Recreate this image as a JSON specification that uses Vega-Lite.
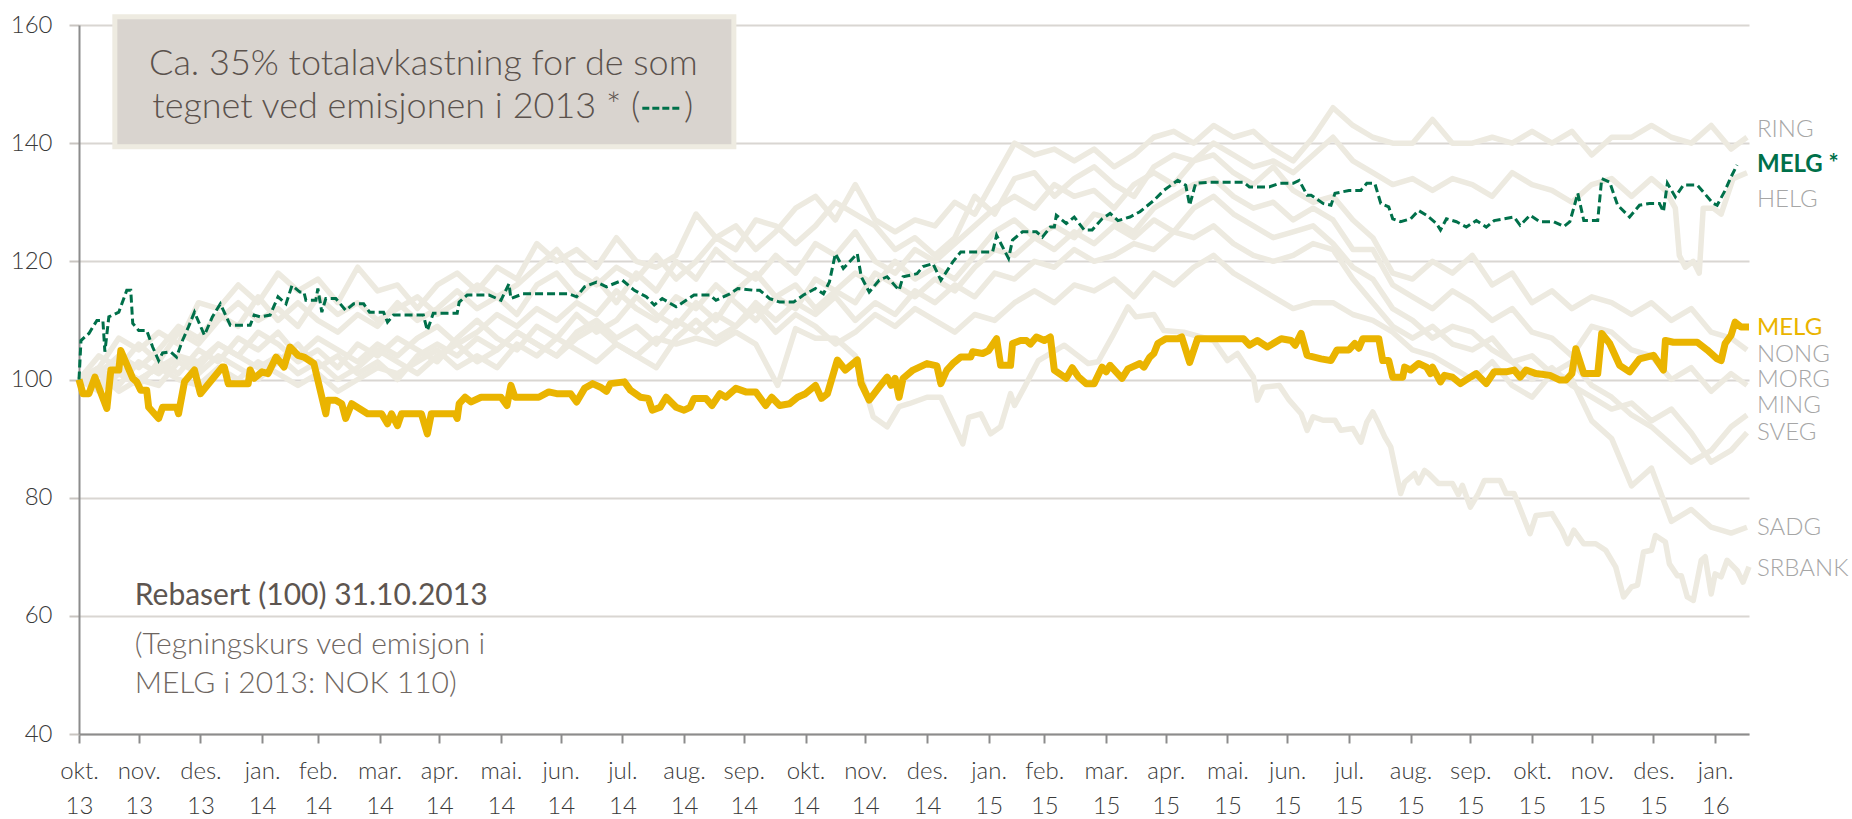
{
"$schema":"https://vega.github.io/schema/vega-lite/v6.json",
"width":1670,"height":709,
"autosize":{"type":"none"},
"padding":{"left":79,"top":25,"right":103,"bottom":85},
"config":{"view":{"stroke":null},"font":"Lato"},
"datasets":{
"series":[
{"s":"RING","d":"2013-10-31","v":100},{"s":"RING","d":"2013-11-10","v":102},{"s":"RING","d":"2013-11-20","v":107},{"s":"RING","d":"2013-11-30","v":105},{"s":"RING","d":"2013-12-10","v":108},{"s":"RING","d":"2013-12-20","v":106},{"s":"RING","d":"2013-12-30","v":113},{"s":"RING","d":"2014-01-09","v":112},{"s":"RING","d":"2014-01-19","v":116},{"s":"RING","d":"2014-01-29","v":113},
{"s":"RING","d":"2014-02-08","v":118},{"s":"RING","d":"2014-02-18","v":115},{"s":"RING","d":"2014-02-28","v":117},{"s":"RING","d":"2014-03-10","v":113},{"s":"RING","d":"2014-03-20","v":119},{"s":"RING","d":"2014-03-30","v":115},{"s":"RING","d":"2014-04-09","v":116},{"s":"RING","d":"2014-04-19","v":112},{"s":"RING","d":"2014-04-29","v":116},{"s":"RING","d":"2014-05-09","v":118},
{"s":"RING","d":"2014-05-19","v":115},{"s":"RING","d":"2014-05-29","v":119},{"s":"RING","d":"2014-06-08","v":117},{"s":"RING","d":"2014-06-18","v":123},{"s":"RING","d":"2014-06-28","v":120},{"s":"RING","d":"2014-07-08","v":122},{"s":"RING","d":"2014-07-18","v":119},{"s":"RING","d":"2014-07-28","v":124},{"s":"RING","d":"2014-08-07","v":120},{"s":"RING","d":"2014-08-17","v":119},
{"s":"RING","d":"2014-08-27","v":121},{"s":"RING","d":"2014-09-06","v":128},{"s":"RING","d":"2014-09-16","v":124},{"s":"RING","d":"2014-09-26","v":126},{"s":"RING","d":"2014-10-06","v":122},{"s":"RING","d":"2014-10-16","v":125},{"s":"RING","d":"2014-10-26","v":129},{"s":"RING","d":"2014-11-05","v":131},{"s":"RING","d":"2014-11-15","v":127},{"s":"RING","d":"2014-11-25","v":133},
{"s":"RING","d":"2014-12-05","v":127},{"s":"RING","d":"2014-12-15","v":125},{"s":"RING","d":"2014-12-25","v":127},{"s":"RING","d":"2015-01-04","v":126},{"s":"RING","d":"2015-01-14","v":130},{"s":"RING","d":"2015-01-24","v":128},{"s":"RING","d":"2015-02-03","v":134},{"s":"RING","d":"2015-02-13","v":140},{"s":"RING","d":"2015-02-23","v":138},{"s":"RING","d":"2015-03-05","v":139},
{"s":"RING","d":"2015-03-15","v":137},{"s":"RING","d":"2015-03-25","v":139},{"s":"RING","d":"2015-04-04","v":136},{"s":"RING","d":"2015-04-14","v":138},{"s":"RING","d":"2015-04-24","v":141},{"s":"RING","d":"2015-05-04","v":142},{"s":"RING","d":"2015-05-14","v":140},{"s":"RING","d":"2015-05-24","v":143},{"s":"RING","d":"2015-06-03","v":141},{"s":"RING","d":"2015-06-13","v":142},
{"s":"RING","d":"2015-06-23","v":139},{"s":"RING","d":"2015-07-03","v":137},{"s":"RING","d":"2015-07-13","v":141},{"s":"RING","d":"2015-07-23","v":146},{"s":"RING","d":"2015-08-02","v":143},{"s":"RING","d":"2015-08-12","v":141},{"s":"RING","d":"2015-08-22","v":140},{"s":"RING","d":"2015-09-01","v":140},{"s":"RING","d":"2015-09-11","v":144},{"s":"RING","d":"2015-09-21","v":140},
{"s":"RING","d":"2015-10-01","v":140},{"s":"RING","d":"2015-10-11","v":141},{"s":"RING","d":"2015-10-21","v":140},{"s":"RING","d":"2015-10-31","v":142},{"s":"RING","d":"2015-11-10","v":140},{"s":"RING","d":"2015-11-20","v":142},{"s":"RING","d":"2015-11-30","v":138},{"s":"RING","d":"2015-12-10","v":141},{"s":"RING","d":"2015-12-20","v":141},{"s":"RING","d":"2015-12-30","v":143},
{"s":"RING","d":"2016-01-09","v":141},{"s":"RING","d":"2016-01-19","v":140},{"s":"RING","d":"2016-01-29","v":143},{"s":"RING","d":"2016-02-08","v":139},{"s":"RING","d":"2016-02-16","v":141},

{"s":"HELG","d":"2013-10-31","v":100},{"s":"HELG","d":"2013-11-10","v":104},{"s":"HELG","d":"2013-11-20","v":102},{"s":"HELG","d":"2013-11-30","v":106},{"s":"HELG","d":"2013-12-10","v":103},{"s":"HELG","d":"2013-12-20","v":108},{"s":"HELG","d":"2013-12-30","v":106},{"s":"HELG","d":"2014-01-09","v":110},{"s":"HELG","d":"2014-01-19","v":113},{"s":"HELG","d":"2014-01-29","v":110},
{"s":"HELG","d":"2014-02-08","v":112},{"s":"HELG","d":"2014-02-18","v":109},{"s":"HELG","d":"2014-02-28","v":114},{"s":"HELG","d":"2014-03-10","v":111},{"s":"HELG","d":"2014-03-20","v":113},{"s":"HELG","d":"2014-03-30","v":110},{"s":"HELG","d":"2014-04-09","v":112},{"s":"HELG","d":"2014-04-19","v":114},{"s":"HELG","d":"2014-04-29","v":111},{"s":"HELG","d":"2014-05-09","v":113},
{"s":"HELG","d":"2014-05-19","v":116},{"s":"HELG","d":"2014-05-29","v":114},{"s":"HELG","d":"2014-06-08","v":116},{"s":"HELG","d":"2014-06-18","v":119},{"s":"HELG","d":"2014-06-28","v":122},{"s":"HELG","d":"2014-07-08","v":118},{"s":"HELG","d":"2014-07-18","v":116},{"s":"HELG","d":"2014-07-28","v":119},{"s":"HELG","d":"2014-08-07","v":117},{"s":"HELG","d":"2014-08-17","v":121},
{"s":"HELG","d":"2014-08-27","v":117},{"s":"HELG","d":"2014-09-06","v":120},{"s":"HELG","d":"2014-09-16","v":124},{"s":"HELG","d":"2014-09-26","v":122},{"s":"HELG","d":"2014-10-06","v":127},{"s":"HELG","d":"2014-10-16","v":126},{"s":"HELG","d":"2014-10-26","v":123},{"s":"HELG","d":"2014-11-05","v":126},{"s":"HELG","d":"2014-11-15","v":130},{"s":"HELG","d":"2014-11-25","v":128},
{"s":"HELG","d":"2014-12-05","v":126},{"s":"HELG","d":"2014-12-15","v":122},{"s":"HELG","d":"2014-12-25","v":124},{"s":"HELG","d":"2015-01-04","v":121},{"s":"HELG","d":"2015-01-14","v":124},{"s":"HELG","d":"2015-01-24","v":131},{"s":"HELG","d":"2015-02-03","v":128},{"s":"HELG","d":"2015-02-13","v":134},{"s":"HELG","d":"2015-02-23","v":135},{"s":"HELG","d":"2015-03-05","v":131},
{"s":"HELG","d":"2015-03-15","v":134},{"s":"HELG","d":"2015-03-25","v":136},{"s":"HELG","d":"2015-04-04","v":133},{"s":"HELG","d":"2015-04-14","v":131},{"s":"HELG","d":"2015-04-24","v":136},{"s":"HELG","d":"2015-05-04","v":138},{"s":"HELG","d":"2015-05-14","v":137},{"s":"HELG","d":"2015-05-24","v":140},{"s":"HELG","d":"2015-06-03","v":138},{"s":"HELG","d":"2015-06-13","v":136},
{"s":"HELG","d":"2015-06-23","v":137},{"s":"HELG","d":"2015-07-03","v":135},{"s":"HELG","d":"2015-07-13","v":138},{"s":"HELG","d":"2015-07-23","v":141},{"s":"HELG","d":"2015-08-02","v":137},{"s":"HELG","d":"2015-08-12","v":135},{"s":"HELG","d":"2015-08-22","v":133},{"s":"HELG","d":"2015-09-01","v":134},{"s":"HELG","d":"2015-09-11","v":132},{"s":"HELG","d":"2015-09-21","v":134},
{"s":"HELG","d":"2015-10-01","v":133},{"s":"HELG","d":"2015-10-11","v":131},{"s":"HELG","d":"2015-10-21","v":135},{"s":"HELG","d":"2015-10-31","v":133},{"s":"HELG","d":"2015-11-10","v":132},{"s":"HELG","d":"2015-11-20","v":130},{"s":"HELG","d":"2015-11-30","v":133},{"s":"HELG","d":"2015-12-10","v":134},{"s":"HELG","d":"2015-12-20","v":131},{"s":"HELG","d":"2015-12-30","v":134},
{"s":"HELG","d":"2016-01-06","v":132},{"s":"HELG","d":"2016-01-11","v":129},{"s":"HELG","d":"2016-01-13","v":121},{"s":"HELG","d":"2016-01-16","v":119},{"s":"HELG","d":"2016-01-20","v":120},{"s":"HELG","d":"2016-01-23","v":118},{"s":"HELG","d":"2016-01-25","v":129},{"s":"HELG","d":"2016-01-30","v":129},{"s":"HELG","d":"2016-02-03","v":128},{"s":"HELG","d":"2016-02-09","v":134},{"s":"HELG","d":"2016-02-16","v":135},

{"s":"NONG","d":"2013-10-31","v":100},{"s":"NONG","d":"2013-11-10","v":101},{"s":"NONG","d":"2013-11-20","v":104},{"s":"NONG","d":"2013-11-30","v":102},{"s":"NONG","d":"2013-12-10","v":105},{"s":"NONG","d":"2013-12-20","v":109},{"s":"NONG","d":"2013-12-30","v":107},{"s":"NONG","d":"2014-01-09","v":111},{"s":"NONG","d":"2014-01-19","v":109},{"s":"NONG","d":"2014-01-29","v":114},
{"s":"NONG","d":"2014-02-08","v":110},{"s":"NONG","d":"2014-02-18","v":113},{"s":"NONG","d":"2014-02-28","v":110},{"s":"NONG","d":"2014-03-10","v":108},{"s":"NONG","d":"2014-03-20","v":111},{"s":"NONG","d":"2014-03-30","v":109},{"s":"NONG","d":"2014-04-09","v":113},{"s":"NONG","d":"2014-04-19","v":110},{"s":"NONG","d":"2014-04-29","v":112},{"s":"NONG","d":"2014-05-09","v":115},
{"s":"NONG","d":"2014-05-19","v":112},{"s":"NONG","d":"2014-05-29","v":114},{"s":"NONG","d":"2014-06-08","v":111},{"s":"NONG","d":"2014-06-18","v":116},{"s":"NONG","d":"2014-06-28","v":118},{"s":"NONG","d":"2014-07-08","v":114},{"s":"NONG","d":"2014-07-18","v":117},{"s":"NONG","d":"2014-07-28","v":113},{"s":"NONG","d":"2014-08-07","v":118},{"s":"NONG","d":"2014-08-17","v":115},
{"s":"NONG","d":"2014-08-27","v":120},{"s":"NONG","d":"2014-09-06","v":117},{"s":"NONG","d":"2014-09-16","v":122},{"s":"NONG","d":"2014-09-26","v":119},{"s":"NONG","d":"2014-10-06","v":117},{"s":"NONG","d":"2014-10-16","v":121},{"s":"NONG","d":"2014-10-26","v":118},{"s":"NONG","d":"2014-11-05","v":123},{"s":"NONG","d":"2014-11-15","v":121},{"s":"NONG","d":"2014-11-25","v":125},
{"s":"NONG","d":"2014-12-05","v":120},{"s":"NONG","d":"2014-12-15","v":118},{"s":"NONG","d":"2014-12-25","v":122},{"s":"NONG","d":"2015-01-04","v":120},{"s":"NONG","d":"2015-01-14","v":123},{"s":"NONG","d":"2015-01-24","v":126},{"s":"NONG","d":"2015-02-03","v":129},{"s":"NONG","d":"2015-02-13","v":131},{"s":"NONG","d":"2015-02-23","v":129},{"s":"NONG","d":"2015-03-05","v":133},
{"s":"NONG","d":"2015-03-15","v":131},{"s":"NONG","d":"2015-03-25","v":132},{"s":"NONG","d":"2015-04-04","v":129},{"s":"NONG","d":"2015-04-14","v":133},{"s":"NONG","d":"2015-04-24","v":135},{"s":"NONG","d":"2015-05-04","v":133},{"s":"NONG","d":"2015-05-14","v":137},{"s":"NONG","d":"2015-05-24","v":138},{"s":"NONG","d":"2015-06-03","v":135},{"s":"NONG","d":"2015-06-13","v":133},
{"s":"NONG","d":"2015-06-23","v":136},{"s":"NONG","d":"2015-07-03","v":132},{"s":"NONG","d":"2015-07-13","v":130},{"s":"NONG","d":"2015-07-23","v":131},{"s":"NONG","d":"2015-08-02","v":127},{"s":"NONG","d":"2015-08-12","v":124},{"s":"NONG","d":"2015-08-22","v":118},{"s":"NONG","d":"2015-09-01","v":117},{"s":"NONG","d":"2015-09-11","v":120},{"s":"NONG","d":"2015-09-21","v":118},
{"s":"NONG","d":"2015-10-01","v":121},{"s":"NONG","d":"2015-10-11","v":116},{"s":"NONG","d":"2015-10-21","v":118},{"s":"NONG","d":"2015-10-31","v":113},{"s":"NONG","d":"2015-11-10","v":115},{"s":"NONG","d":"2015-11-20","v":112},{"s":"NONG","d":"2015-11-30","v":114},{"s":"NONG","d":"2015-12-10","v":113},{"s":"NONG","d":"2015-12-20","v":111},{"s":"NONG","d":"2015-12-30","v":113},
{"s":"NONG","d":"2016-01-09","v":110},{"s":"NONG","d":"2016-01-19","v":112},{"s":"NONG","d":"2016-01-29","v":108},{"s":"NONG","d":"2016-02-08","v":107},{"s":"NONG","d":"2016-02-16","v":105},

{"s":"MORG","d":"2013-10-31","v":100},{"s":"MORG","d":"2013-11-10","v":98},{"s":"MORG","d":"2013-11-20","v":101},{"s":"MORG","d":"2013-11-30","v":99},{"s":"MORG","d":"2013-12-10","v":103},{"s":"MORG","d":"2013-12-20","v":101},{"s":"MORG","d":"2013-12-30","v":105},{"s":"MORG","d":"2014-01-09","v":103},{"s":"MORG","d":"2014-01-19","v":107},{"s":"MORG","d":"2014-01-29","v":105},
{"s":"MORG","d":"2014-02-08","v":108},{"s":"MORG","d":"2014-02-18","v":104},{"s":"MORG","d":"2014-02-28","v":107},{"s":"MORG","d":"2014-03-10","v":105},{"s":"MORG","d":"2014-03-20","v":103},{"s":"MORG","d":"2014-03-30","v":106},{"s":"MORG","d":"2014-04-09","v":104},{"s":"MORG","d":"2014-04-19","v":107},{"s":"MORG","d":"2014-04-29","v":109},{"s":"MORG","d":"2014-05-09","v":106},
{"s":"MORG","d":"2014-05-19","v":108},{"s":"MORG","d":"2014-05-29","v":111},{"s":"MORG","d":"2014-06-08","v":109},{"s":"MORG","d":"2014-06-18","v":112},{"s":"MORG","d":"2014-06-28","v":110},{"s":"MORG","d":"2014-07-08","v":113},{"s":"MORG","d":"2014-07-18","v":111},{"s":"MORG","d":"2014-07-28","v":115},{"s":"MORG","d":"2014-08-07","v":112},{"s":"MORG","d":"2014-08-17","v":110},
{"s":"MORG","d":"2014-08-27","v":114},{"s":"MORG","d":"2014-09-06","v":112},{"s":"MORG","d":"2014-09-16","v":116},{"s":"MORG","d":"2014-09-26","v":113},{"s":"MORG","d":"2014-10-06","v":110},{"s":"MORG","d":"2014-10-16","v":114},{"s":"MORG","d":"2014-10-26","v":116},{"s":"MORG","d":"2014-11-05","v":112},{"s":"MORG","d":"2014-11-15","v":115},{"s":"MORG","d":"2014-11-25","v":118},
{"s":"MORG","d":"2014-12-05","v":116},{"s":"MORG","d":"2014-12-15","v":120},{"s":"MORG","d":"2014-12-25","v":117},{"s":"MORG","d":"2015-01-04","v":119},{"s":"MORG","d":"2015-01-14","v":117},{"s":"MORG","d":"2015-01-24","v":121},{"s":"MORG","d":"2015-02-03","v":125},{"s":"MORG","d":"2015-02-13","v":127},{"s":"MORG","d":"2015-02-23","v":124},{"s":"MORG","d":"2015-03-05","v":126},
{"s":"MORG","d":"2015-03-15","v":124},{"s":"MORG","d":"2015-03-25","v":128},{"s":"MORG","d":"2015-04-04","v":127},{"s":"MORG","d":"2015-04-14","v":125},{"s":"MORG","d":"2015-04-24","v":129},{"s":"MORG","d":"2015-05-04","v":131},{"s":"MORG","d":"2015-05-14","v":133},{"s":"MORG","d":"2015-05-24","v":134},{"s":"MORG","d":"2015-06-03","v":131},{"s":"MORG","d":"2015-06-13","v":129},
{"s":"MORG","d":"2015-06-23","v":130},{"s":"MORG","d":"2015-07-03","v":127},{"s":"MORG","d":"2015-07-13","v":129},{"s":"MORG","d":"2015-07-23","v":127},{"s":"MORG","d":"2015-08-02","v":122},{"s":"MORG","d":"2015-08-12","v":122},{"s":"MORG","d":"2015-08-22","v":116},{"s":"MORG","d":"2015-09-01","v":114},{"s":"MORG","d":"2015-09-11","v":112},{"s":"MORG","d":"2015-09-21","v":115},
{"s":"MORG","d":"2015-10-01","v":113},{"s":"MORG","d":"2015-10-11","v":110},{"s":"MORG","d":"2015-10-21","v":112},{"s":"MORG","d":"2015-10-31","v":108},{"s":"MORG","d":"2015-11-10","v":107},{"s":"MORG","d":"2015-11-20","v":104},{"s":"MORG","d":"2015-11-30","v":109},{"s":"MORG","d":"2015-12-10","v":108},{"s":"MORG","d":"2015-12-20","v":105},{"s":"MORG","d":"2015-12-30","v":104},
{"s":"MORG","d":"2016-01-09","v":100},{"s":"MORG","d":"2016-01-19","v":102},{"s":"MORG","d":"2016-01-29","v":98},{"s":"MORG","d":"2016-02-08","v":101},{"s":"MORG","d":"2016-02-16","v":99},

{"s":"MING","d":"2013-10-31","v":100},{"s":"MING","d":"2013-11-10","v":102},{"s":"MING","d":"2013-11-20","v":99},{"s":"MING","d":"2013-11-30","v":103},{"s":"MING","d":"2013-12-10","v":101},{"s":"MING","d":"2013-12-20","v":104},{"s":"MING","d":"2013-12-30","v":102},{"s":"MING","d":"2014-01-09","v":106},{"s":"MING","d":"2014-01-19","v":104},{"s":"MING","d":"2014-01-29","v":108},
{"s":"MING","d":"2014-02-08","v":106},{"s":"MING","d":"2014-02-18","v":103},{"s":"MING","d":"2014-02-28","v":105},{"s":"MING","d":"2014-03-10","v":102},{"s":"MING","d":"2014-03-20","v":106},{"s":"MING","d":"2014-03-30","v":104},{"s":"MING","d":"2014-04-09","v":107},{"s":"MING","d":"2014-04-19","v":105},{"s":"MING","d":"2014-04-29","v":103},{"s":"MING","d":"2014-05-09","v":107},
{"s":"MING","d":"2014-05-19","v":110},{"s":"MING","d":"2014-05-29","v":107},{"s":"MING","d":"2014-06-08","v":105},{"s":"MING","d":"2014-06-18","v":109},{"s":"MING","d":"2014-06-28","v":107},{"s":"MING","d":"2014-07-08","v":111},{"s":"MING","d":"2014-07-18","v":108},{"s":"MING","d":"2014-07-28","v":110},{"s":"MING","d":"2014-08-07","v":114},{"s":"MING","d":"2014-08-17","v":111},
{"s":"MING","d":"2014-08-27","v":109},{"s":"MING","d":"2014-09-06","v":113},{"s":"MING","d":"2014-09-16","v":110},{"s":"MING","d":"2014-09-26","v":115},{"s":"MING","d":"2014-10-06","v":118},{"s":"MING","d":"2014-10-16","v":114},{"s":"MING","d":"2014-10-26","v":112},{"s":"MING","d":"2014-11-05","v":117},{"s":"MING","d":"2014-11-15","v":115},{"s":"MING","d":"2014-11-25","v":113},
{"s":"MING","d":"2014-12-05","v":118},{"s":"MING","d":"2014-12-15","v":116},{"s":"MING","d":"2014-12-25","v":114},{"s":"MING","d":"2015-01-04","v":117},{"s":"MING","d":"2015-01-14","v":115},{"s":"MING","d":"2015-01-24","v":119},{"s":"MING","d":"2015-02-03","v":122},{"s":"MING","d":"2015-02-13","v":121},{"s":"MING","d":"2015-02-23","v":124},{"s":"MING","d":"2015-03-05","v":122},
{"s":"MING","d":"2015-03-15","v":125},{"s":"MING","d":"2015-03-25","v":123},{"s":"MING","d":"2015-04-04","v":126},{"s":"MING","d":"2015-04-14","v":124},{"s":"MING","d":"2015-04-24","v":127},{"s":"MING","d":"2015-05-04","v":125},{"s":"MING","d":"2015-05-14","v":129},{"s":"MING","d":"2015-05-24","v":131},{"s":"MING","d":"2015-06-03","v":128},{"s":"MING","d":"2015-06-13","v":126},
{"s":"MING","d":"2015-06-23","v":124},{"s":"MING","d":"2015-07-03","v":125},{"s":"MING","d":"2015-07-13","v":126},{"s":"MING","d":"2015-07-23","v":123},{"s":"MING","d":"2015-08-02","v":119},{"s":"MING","d":"2015-08-12","v":117},{"s":"MING","d":"2015-08-22","v":112},{"s":"MING","d":"2015-09-01","v":110},{"s":"MING","d":"2015-09-11","v":107},{"s":"MING","d":"2015-09-21","v":109},
{"s":"MING","d":"2015-10-01","v":108},{"s":"MING","d":"2015-10-11","v":105},{"s":"MING","d":"2015-10-21","v":103},{"s":"MING","d":"2015-10-31","v":104},{"s":"MING","d":"2015-11-10","v":101},{"s":"MING","d":"2015-11-20","v":103},{"s":"MING","d":"2015-11-30","v":99},{"s":"MING","d":"2015-12-10","v":97},{"s":"MING","d":"2015-12-20","v":94},{"s":"MING","d":"2015-12-30","v":92},
{"s":"MING","d":"2016-01-09","v":89},{"s":"MING","d":"2016-01-19","v":86},{"s":"MING","d":"2016-01-29","v":88},{"s":"MING","d":"2016-02-08","v":92},{"s":"MING","d":"2016-02-16","v":94},

{"s":"SVEG","d":"2013-10-31","v":100},{"s":"SVEG","d":"2013-11-10","v":99},{"s":"SVEG","d":"2013-11-20","v":102},{"s":"SVEG","d":"2013-11-30","v":100},{"s":"SVEG","d":"2013-12-10","v":99},{"s":"SVEG","d":"2013-12-20","v":103},{"s":"SVEG","d":"2013-12-30","v":101},{"s":"SVEG","d":"2014-01-09","v":104},{"s":"SVEG","d":"2014-01-19","v":102},{"s":"SVEG","d":"2014-01-29","v":100},
{"s":"SVEG","d":"2014-02-08","v":103},{"s":"SVEG","d":"2014-02-18","v":106},{"s":"SVEG","d":"2014-02-28","v":102},{"s":"SVEG","d":"2014-03-10","v":104},{"s":"SVEG","d":"2014-03-20","v":101},{"s":"SVEG","d":"2014-03-30","v":103},{"s":"SVEG","d":"2014-04-09","v":100},{"s":"SVEG","d":"2014-04-19","v":104},{"s":"SVEG","d":"2014-04-29","v":106},{"s":"SVEG","d":"2014-05-09","v":104},
{"s":"SVEG","d":"2014-05-19","v":107},{"s":"SVEG","d":"2014-05-29","v":105},{"s":"SVEG","d":"2014-06-08","v":108},{"s":"SVEG","d":"2014-06-18","v":106},{"s":"SVEG","d":"2014-06-28","v":104},{"s":"SVEG","d":"2014-07-08","v":108},{"s":"SVEG","d":"2014-07-18","v":110},{"s":"SVEG","d":"2014-07-28","v":107},{"s":"SVEG","d":"2014-08-07","v":109},{"s":"SVEG","d":"2014-08-17","v":106},
{"s":"SVEG","d":"2014-08-27","v":110},{"s":"SVEG","d":"2014-09-06","v":108},{"s":"SVEG","d":"2014-09-16","v":111},{"s":"SVEG","d":"2014-09-26","v":109},{"s":"SVEG","d":"2014-10-06","v":113},{"s":"SVEG","d":"2014-10-16","v":110},{"s":"SVEG","d":"2014-10-26","v":113},{"s":"SVEG","d":"2014-11-05","v":111},{"s":"SVEG","d":"2014-11-15","v":114},{"s":"SVEG","d":"2014-11-25","v":110},
{"s":"SVEG","d":"2014-12-05","v":113},{"s":"SVEG","d":"2014-12-15","v":111},{"s":"SVEG","d":"2014-12-25","v":115},{"s":"SVEG","d":"2015-01-04","v":113},{"s":"SVEG","d":"2015-01-14","v":116},{"s":"SVEG","d":"2015-01-24","v":114},{"s":"SVEG","d":"2015-02-03","v":118},{"s":"SVEG","d":"2015-02-13","v":117},{"s":"SVEG","d":"2015-02-23","v":120},{"s":"SVEG","d":"2015-03-05","v":119},
{"s":"SVEG","d":"2015-03-15","v":122},{"s":"SVEG","d":"2015-03-25","v":120},{"s":"SVEG","d":"2015-04-04","v":121},{"s":"SVEG","d":"2015-04-14","v":123},{"s":"SVEG","d":"2015-04-24","v":122},{"s":"SVEG","d":"2015-05-04","v":125},{"s":"SVEG","d":"2015-05-14","v":124},{"s":"SVEG","d":"2015-05-24","v":126},{"s":"SVEG","d":"2015-06-03","v":123},{"s":"SVEG","d":"2015-06-13","v":121},
{"s":"SVEG","d":"2015-06-23","v":120},{"s":"SVEG","d":"2015-07-03","v":121},{"s":"SVEG","d":"2015-07-13","v":123},{"s":"SVEG","d":"2015-07-23","v":122},{"s":"SVEG","d":"2015-08-02","v":117},{"s":"SVEG","d":"2015-08-12","v":113},{"s":"SVEG","d":"2015-08-22","v":109},{"s":"SVEG","d":"2015-09-01","v":107},{"s":"SVEG","d":"2015-09-11","v":109},{"s":"SVEG","d":"2015-09-21","v":106},
{"s":"SVEG","d":"2015-10-01","v":105},{"s":"SVEG","d":"2015-10-11","v":107},{"s":"SVEG","d":"2015-10-21","v":103},{"s":"SVEG","d":"2015-10-31","v":100},{"s":"SVEG","d":"2015-11-10","v":102},{"s":"SVEG","d":"2015-11-20","v":99},{"s":"SVEG","d":"2015-11-30","v":97},{"s":"SVEG","d":"2015-12-10","v":95},{"s":"SVEG","d":"2015-12-20","v":96},{"s":"SVEG","d":"2015-12-30","v":93},
{"s":"SVEG","d":"2016-01-09","v":95},{"s":"SVEG","d":"2016-01-19","v":91},{"s":"SVEG","d":"2016-01-29","v":86},{"s":"SVEG","d":"2016-02-08","v":88},{"s":"SVEG","d":"2016-02-16","v":91},

{"s":"SADG","d":"2013-10-31","v":100},{"s":"SADG","d":"2013-11-10","v":101},{"s":"SADG","d":"2013-11-20","v":98},{"s":"SADG","d":"2013-11-30","v":100},{"s":"SADG","d":"2013-12-10","v":102},{"s":"SADG","d":"2013-12-20","v":100},{"s":"SADG","d":"2013-12-30","v":99},{"s":"SADG","d":"2014-01-09","v":102},{"s":"SADG","d":"2014-01-19","v":100},{"s":"SADG","d":"2014-01-29","v":103},
{"s":"SADG","d":"2014-02-08","v":101},{"s":"SADG","d":"2014-02-18","v":99},{"s":"SADG","d":"2014-02-28","v":101},{"s":"SADG","d":"2014-03-10","v":98},{"s":"SADG","d":"2014-03-20","v":100},{"s":"SADG","d":"2014-03-30","v":102},{"s":"SADG","d":"2014-04-09","v":101},{"s":"SADG","d":"2014-04-19","v":103},{"s":"SADG","d":"2014-04-29","v":105},{"s":"SADG","d":"2014-05-09","v":102},
{"s":"SADG","d":"2014-05-19","v":104},{"s":"SADG","d":"2014-05-29","v":102},{"s":"SADG","d":"2014-06-08","v":106},{"s":"SADG","d":"2014-06-18","v":104},{"s":"SADG","d":"2014-06-28","v":107},{"s":"SADG","d":"2014-07-08","v":105},{"s":"SADG","d":"2014-07-18","v":103},{"s":"SADG","d":"2014-07-28","v":106},{"s":"SADG","d":"2014-08-07","v":104},{"s":"SADG","d":"2014-08-17","v":102},
{"s":"SADG","d":"2014-08-27","v":107},{"s":"SADG","d":"2014-09-06","v":110},{"s":"SADG","d":"2014-09-16","v":107},{"s":"SADG","d":"2014-09-26","v":109},{"s":"SADG","d":"2014-10-06","v":112},{"s":"SADG","d":"2014-10-16","v":108},{"s":"SADG","d":"2014-10-26","v":111},{"s":"SADG","d":"2014-11-05","v":109},{"s":"SADG","d":"2014-11-15","v":106},{"s":"SADG","d":"2014-11-25","v":108},
{"s":"SADG","d":"2014-12-05","v":111},{"s":"SADG","d":"2014-12-15","v":109},{"s":"SADG","d":"2014-12-25","v":112},{"s":"SADG","d":"2015-01-04","v":110},{"s":"SADG","d":"2015-01-14","v":108},{"s":"SADG","d":"2015-01-24","v":111},{"s":"SADG","d":"2015-02-03","v":110},{"s":"SADG","d":"2015-02-13","v":113},{"s":"SADG","d":"2015-02-23","v":115},{"s":"SADG","d":"2015-03-05","v":113},
{"s":"SADG","d":"2015-03-15","v":116},{"s":"SADG","d":"2015-03-25","v":115},{"s":"SADG","d":"2015-04-04","v":117},{"s":"SADG","d":"2015-04-14","v":114},{"s":"SADG","d":"2015-04-24","v":118},{"s":"SADG","d":"2015-05-04","v":116},{"s":"SADG","d":"2015-05-14","v":119},{"s":"SADG","d":"2015-05-24","v":121},{"s":"SADG","d":"2015-06-03","v":118},{"s":"SADG","d":"2015-06-13","v":116},
{"s":"SADG","d":"2015-06-23","v":114},{"s":"SADG","d":"2015-07-03","v":112},{"s":"SADG","d":"2015-07-13","v":113},{"s":"SADG","d":"2015-07-23","v":113},{"s":"SADG","d":"2015-08-02","v":111},{"s":"SADG","d":"2015-08-12","v":110},{"s":"SADG","d":"2015-08-22","v":108},{"s":"SADG","d":"2015-09-01","v":105},{"s":"SADG","d":"2015-09-11","v":104},{"s":"SADG","d":"2015-09-21","v":102},
{"s":"SADG","d":"2015-10-01","v":100},{"s":"SADG","d":"2015-10-11","v":103},{"s":"SADG","d":"2015-10-21","v":99},{"s":"SADG","d":"2015-10-31","v":97},{"s":"SADG","d":"2015-11-10","v":101},{"s":"SADG","d":"2015-11-20","v":100},{"s":"SADG","d":"2015-11-30","v":93},{"s":"SADG","d":"2015-12-10","v":90},{"s":"SADG","d":"2015-12-20","v":82},{"s":"SADG","d":"2015-12-30","v":85},
{"s":"SADG","d":"2016-01-09","v":76},{"s":"SADG","d":"2016-01-19","v":78},{"s":"SADG","d":"2016-01-29","v":75},{"s":"SADG","d":"2016-02-08","v":74},{"s":"SADG","d":"2016-02-16","v":75},

{"s":"SRBANK","d":"2013-10-31","v":100},{"s":"SRBANK","d":"2013-11-10","v":99},{"s":"SRBANK","d":"2013-11-20","v":101},{"s":"SRBANK","d":"2013-11-30","v":100},{"s":"SRBANK","d":"2013-12-10","v":102},{"s":"SRBANK","d":"2013-12-20","v":104},{"s":"SRBANK","d":"2013-12-30","v":103},{"s":"SRBANK","d":"2014-01-09","v":106},{"s":"SRBANK","d":"2014-01-19","v":104},{"s":"SRBANK","d":"2014-01-29","v":102},
{"s":"SRBANK","d":"2014-02-08","v":104},{"s":"SRBANK","d":"2014-02-18","v":101},{"s":"SRBANK","d":"2014-02-28","v":103},{"s":"SRBANK","d":"2014-03-10","v":100},{"s":"SRBANK","d":"2014-03-20","v":102},{"s":"SRBANK","d":"2014-03-30","v":105},{"s":"SRBANK","d":"2014-04-09","v":103},{"s":"SRBANK","d":"2014-04-19","v":101},{"s":"SRBANK","d":"2014-04-29","v":104},{"s":"SRBANK","d":"2014-05-09","v":106},
{"s":"SRBANK","d":"2014-05-19","v":103},{"s":"SRBANK","d":"2014-05-29","v":105},{"s":"SRBANK","d":"2014-06-08","v":108},{"s":"SRBANK","d":"2014-06-18","v":106},{"s":"SRBANK","d":"2014-06-28","v":104},{"s":"SRBANK","d":"2014-07-08","v":107},{"s":"SRBANK","d":"2014-07-18","v":109},{"s":"SRBANK","d":"2014-07-28","v":106},{"s":"SRBANK","d":"2014-08-07","v":104},{"s":"SRBANK","d":"2014-08-17","v":107},
{"s":"SRBANK","d":"2014-08-27","v":106},{"s":"SRBANK","d":"2014-09-06","v":107},{"s":"SRBANK","d":"2014-09-16","v":106},{"s":"SRBANK","d":"2014-09-26","v":108},{"s":"SRBANK","d":"2014-10-06","v":106},{"s":"SRBANK","d":"2014-10-17","v":99},{"s":"SRBANK","d":"2014-10-26","v":108.6},{"s":"SRBANK","d":"2014-11-05","v":107},{"s":"SRBANK","d":"2014-11-15","v":107},{"s":"SRBANK","d":"2014-11-25","v":104},
{"s":"SRBANK","d":"2014-12-04","v":93.7},{"s":"SRBANK","d":"2014-12-11","v":92},{"s":"SRBANK","d":"2014-12-17","v":95.4},{"s":"SRBANK","d":"2014-12-22","v":95.9},{"s":"SRBANK","d":"2014-12-31","v":97},{"s":"SRBANK","d":"2015-01-07","v":97},{"s":"SRBANK","d":"2015-01-14","v":92},{"s":"SRBANK","d":"2015-01-18","v":89.1},{"s":"SRBANK","d":"2015-01-21","v":93.6},{"s":"SRBANK","d":"2015-01-27","v":94.2},
{"s":"SRBANK","d":"2015-02-01","v":90.8},{"s":"SRBANK","d":"2015-02-06","v":92},{"s":"SRBANK","d":"2015-02-11","v":97.6},{"s":"SRBANK","d":"2015-02-13","v":95.6},{"s":"SRBANK","d":"2015-02-18","v":98.7},{"s":"SRBANK","d":"2015-02-25","v":103.2},{"s":"SRBANK","d":"2015-03-10","v":105.8},{"s":"SRBANK","d":"2015-03-15","v":104.5},{"s":"SRBANK","d":"2015-03-22","v":102.7},{"s":"SRBANK","d":"2015-03-27","v":103},
{"s":"SRBANK","d":"2015-04-03","v":107.2},{"s":"SRBANK","d":"2015-04-11","v":112.3},{"s":"SRBANK","d":"2015-04-15","v":110.6},{"s":"SRBANK","d":"2015-04-24","v":111},{"s":"SRBANK","d":"2015-04-29","v":108.3},{"s":"SRBANK","d":"2015-05-09","v":108},{"s":"SRBANK","d":"2015-05-24","v":106.6},{"s":"SRBANK","d":"2015-05-31","v":103.2},{"s":"SRBANK","d":"2015-06-05","v":104.4},{"s":"SRBANK","d":"2015-06-13","v":100.4},
{"s":"SRBANK","d":"2015-06-15","v":96.5},{"s":"SRBANK","d":"2015-06-18","v":98.7},{"s":"SRBANK","d":"2015-06-26","v":99},{"s":"SRBANK","d":"2015-07-01","v":96.5},{"s":"SRBANK","d":"2015-07-07","v":94.2},{"s":"SRBANK","d":"2015-07-10","v":91.4},{"s":"SRBANK","d":"2015-07-13","v":93.7},{"s":"SRBANK","d":"2015-07-18","v":93.1},{"s":"SRBANK","d":"2015-07-24","v":93.1},{"s":"SRBANK","d":"2015-07-27","v":91.4},
{"s":"SRBANK","d":"2015-08-02","v":91.7},{"s":"SRBANK","d":"2015-08-06","v":89.4},{"s":"SRBANK","d":"2015-08-09","v":92.8},{"s":"SRBANK","d":"2015-08-12","v":94.5},{"s":"SRBANK","d":"2015-08-15","v":92.5},{"s":"SRBANK","d":"2015-08-18","v":90.3},{"s":"SRBANK","d":"2015-08-21","v":88.6},{"s":"SRBANK","d":"2015-08-26","v":80.7},{"s":"SRBANK","d":"2015-08-28","v":82.6},{"s":"SRBANK","d":"2015-09-02","v":84.1},
{"s":"SRBANK","d":"2015-09-04","v":82.5},{"s":"SRBANK","d":"2015-09-07","v":84.6},{"s":"SRBANK","d":"2015-09-09","v":84.1},{"s":"SRBANK","d":"2015-09-14","v":82.4},{"s":"SRBANK","d":"2015-09-21","v":82.4},{"s":"SRBANK","d":"2015-09-24","v":80.5},{"s":"SRBANK","d":"2015-09-26","v":82.1},{"s":"SRBANK","d":"2015-09-30","v":78.4},{"s":"SRBANK","d":"2015-10-04","v":80.7},{"s":"SRBANK","d":"2015-10-07","v":82.9},
{"s":"SRBANK","d":"2015-10-15","v":82.9},{"s":"SRBANK","d":"2015-10-18","v":80.7},{"s":"SRBANK","d":"2015-10-22","v":80.7},{"s":"SRBANK","d":"2015-10-28","v":75.6},{"s":"SRBANK","d":"2015-10-30","v":73.9},{"s":"SRBANK","d":"2015-11-02","v":77},{"s":"SRBANK","d":"2015-11-10","v":77.3},{"s":"SRBANK","d":"2015-11-15","v":74.5},{"s":"SRBANK","d":"2015-11-18","v":72.2},{"s":"SRBANK","d":"2015-11-21","v":74.5},
{"s":"SRBANK","d":"2015-11-26","v":72.2},{"s":"SRBANK","d":"2015-12-02","v":72.2},{"s":"SRBANK","d":"2015-12-07","v":71.1},{"s":"SRBANK","d":"2015-12-12","v":68.3},{"s":"SRBANK","d":"2015-12-16","v":63.2},{"s":"SRBANK","d":"2015-12-20","v":64.9},{"s":"SRBANK","d":"2015-12-23","v":65.2},{"s":"SRBANK","d":"2015-12-26","v":70.8},{"s":"SRBANK","d":"2015-12-30","v":71.1},{"s":"SRBANK","d":"2016-01-01","v":73.6},
{"s":"SRBANK","d":"2016-01-06","v":72.5},{"s":"SRBANK","d":"2016-01-08","v":68.8},{"s":"SRBANK","d":"2016-01-12","v":66.8},{"s":"SRBANK","d":"2016-01-14","v":66.8},{"s":"SRBANK","d":"2016-01-17","v":63.2},{"s":"SRBANK","d":"2016-01-20","v":62.6},{"s":"SRBANK","d":"2016-01-24","v":69.4},{"s":"SRBANK","d":"2016-01-26","v":70},{"s":"SRBANK","d":"2016-01-29","v":63.7},{"s":"SRBANK","d":"2016-01-31","v":67.1},
{"s":"SRBANK","d":"2016-02-03","v":66.6},{"s":"SRBANK","d":"2016-02-06","v":69.4},{"s":"SRBANK","d":"2016-02-11","v":67.7},{"s":"SRBANK","d":"2016-02-14","v":65.7},{"s":"SRBANK","d":"2016-02-17","v":68.3},

{"s":"MELG","d":"2013-10-31","v":100},{"s":"MELG","d":"2013-11-02","v":97.6},{"s":"MELG","d":"2013-11-05","v":97.6},{"s":"MELG","d":"2013-11-08","v":100.4},{"s":"MELG","d":"2013-11-14","v":95.1},{"s":"MELG","d":"2013-11-16","v":101.6},{"s":"MELG","d":"2013-11-20","v":101.6},{"s":"MELG","d":"2013-11-21","v":104.9},{"s":"MELG","d":"2013-11-27","v":100.2},{"s":"MELG","d":"2013-11-29","v":99.6},
{"s":"MELG","d":"2013-12-01","v":98.2},{"s":"MELG","d":"2013-12-04","v":98.2},{"s":"MELG","d":"2013-12-05","v":95.3},{"s":"MELG","d":"2013-12-10","v":93.4},{"s":"MELG","d":"2013-12-12","v":95.3},{"s":"MELG","d":"2013-12-19","v":95.3},{"s":"MELG","d":"2013-12-20","v":94.2},{"s":"MELG","d":"2013-12-23","v":99.6},{"s":"MELG","d":"2013-12-28","v":101.6},{"s":"MELG","d":"2013-12-31","v":97.6},
{"s":"MELG","d":"2014-01-11","v":102.1},{"s":"MELG","d":"2014-01-12","v":102.1},{"s":"MELG","d":"2014-01-14","v":99.3},{"s":"MELG","d":"2014-01-24","v":99.3},{"s":"MELG","d":"2014-01-25","v":101.6},{"s":"MELG","d":"2014-01-27","v":100.2},{"s":"MELG","d":"2014-01-31","v":101.3},{"s":"MELG","d":"2014-02-03","v":101},{"s":"MELG","d":"2014-02-07","v":103.8},{"s":"MELG","d":"2014-02-11","v":102.1},
{"s":"MELG","d":"2014-02-14","v":105.5},{"s":"MELG","d":"2014-02-18","v":104.1},{"s":"MELG","d":"2014-02-21","v":103.8},{"s":"MELG","d":"2014-02-26","v":102.7},{"s":"MELG","d":"2014-03-04","v":94.2},{"s":"MELG","d":"2014-03-05","v":96.5},{"s":"MELG","d":"2014-03-09","v":96.5},{"s":"MELG","d":"2014-03-12","v":95.9},{"s":"MELG","d":"2014-03-14","v":93.4},{"s":"MELG","d":"2014-03-17","v":95.9},
{"s":"MELG","d":"2014-03-25","v":94.2},{"s":"MELG","d":"2014-04-01","v":94.2},{"s":"MELG","d":"2014-04-04","v":92.5},{"s":"MELG","d":"2014-04-06","v":94.2},{"s":"MELG","d":"2014-04-09","v":92.2},{"s":"MELG","d":"2014-04-11","v":94.2},{"s":"MELG","d":"2014-04-21","v":94.2},{"s":"MELG","d":"2014-04-24","v":90.8},{"s":"MELG","d":"2014-04-26","v":94.2},{"s":"MELG","d":"2014-05-08","v":94.2},
{"s":"MELG","d":"2014-05-09","v":93.4},{"s":"MELG","d":"2014-05-10","v":95.9},{"s":"MELG","d":"2014-05-13","v":97},{"s":"MELG","d":"2014-05-16","v":96.2},{"s":"MELG","d":"2014-05-21","v":97},{"s":"MELG","d":"2014-05-31","v":97},{"s":"MELG","d":"2014-06-03","v":95.6},{"s":"MELG","d":"2014-06-05","v":99},{"s":"MELG","d":"2014-06-07","v":97},{"s":"MELG","d":"2014-06-19","v":97},
{"s":"MELG","d":"2014-06-24","v":97.9},{"s":"MELG","d":"2014-06-28","v":97.6},{"s":"MELG","d":"2014-07-05","v":97.6},{"s":"MELG","d":"2014-07-08","v":96.2},{"s":"MELG","d":"2014-07-12","v":98.5},{"s":"MELG","d":"2014-07-16","v":99.3},{"s":"MELG","d":"2014-07-20","v":98.7},{"s":"MELG","d":"2014-07-23","v":98},{"s":"MELG","d":"2014-07-25","v":99.3},{"s":"MELG","d":"2014-08-01","v":99.6},
{"s":"MELG","d":"2014-08-04","v":98.2},{"s":"MELG","d":"2014-08-09","v":97},{"s":"MELG","d":"2014-08-13","v":96.8},{"s":"MELG","d":"2014-08-15","v":94.8},{"s":"MELG","d":"2014-08-19","v":95.3},{"s":"MELG","d":"2014-08-22","v":97},{"s":"MELG","d":"2014-08-27","v":95.3},{"s":"MELG","d":"2014-08-31","v":94.8},{"s":"MELG","d":"2014-09-03","v":95.3},{"s":"MELG","d":"2014-09-05","v":96.8},
{"s":"MELG","d":"2014-09-11","v":96.8},{"s":"MELG","d":"2014-09-14","v":95.6},{"s":"MELG","d":"2014-09-18","v":97.6},{"s":"MELG","d":"2014-09-21","v":97},{"s":"MELG","d":"2014-09-26","v":98.5},{"s":"MELG","d":"2014-10-01","v":97.9},{"s":"MELG","d":"2014-10-06","v":97.9},{"s":"MELG","d":"2014-10-11","v":95.6},{"s":"MELG","d":"2014-10-14","v":97},{"s":"MELG","d":"2014-10-18","v":95.6},
{"s":"MELG","d":"2014-10-23","v":95.9},{"s":"MELG","d":"2014-10-27","v":97},{"s":"MELG","d":"2014-10-31","v":97.6},{"s":"MELG","d":"2014-11-05","v":99},{"s":"MELG","d":"2014-11-08","v":96.8},{"s":"MELG","d":"2014-11-11","v":97.6},{"s":"MELG","d":"2014-11-16","v":103.3},{"s":"MELG","d":"2014-11-20","v":101.6},{"s":"MELG","d":"2014-11-26","v":103.3},{"s":"MELG","d":"2014-11-28","v":99.3},
{"s":"MELG","d":"2014-12-02","v":96.5},{"s":"MELG","d":"2014-12-07","v":98.7},{"s":"MELG","d":"2014-12-11","v":100.4},{"s":"MELG","d":"2014-12-13","v":99},{"s":"MELG","d":"2014-12-15","v":100.2},{"s":"MELG","d":"2014-12-17","v":97},{"s":"MELG","d":"2014-12-19","v":100.2},{"s":"MELG","d":"2014-12-24","v":101.6},{"s":"MELG","d":"2014-12-31","v":102.7},{"s":"MELG","d":"2015-01-05","v":102.3},
{"s":"MELG","d":"2015-01-07","v":99.3},{"s":"MELG","d":"2015-01-10","v":101.6},{"s":"MELG","d":"2015-01-13","v":102.7},{"s":"MELG","d":"2015-01-17","v":103.8},{"s":"MELG","d":"2015-01-22","v":103.8},{"s":"MELG","d":"2015-01-23","v":104.7},{"s":"MELG","d":"2015-01-28","v":104.4},{"s":"MELG","d":"2015-01-31","v":104.9},{"s":"MELG","d":"2015-02-04","v":106.9},{"s":"MELG","d":"2015-02-06","v":102.4},
{"s":"MELG","d":"2015-02-11","v":102.4},{"s":"MELG","d":"2015-02-12","v":106.1},{"s":"MELG","d":"2015-02-16","v":106.6},{"s":"MELG","d":"2015-02-19","v":106.6},{"s":"MELG","d":"2015-02-21","v":106},{"s":"MELG","d":"2015-02-24","v":107.2},{"s":"MELG","d":"2015-02-28","v":106.6},{"s":"MELG","d":"2015-03-03","v":107.2},{"s":"MELG","d":"2015-03-05","v":101.6},{"s":"MELG","d":"2015-03-11","v":100.2},
{"s":"MELG","d":"2015-03-14","v":102},{"s":"MELG","d":"2015-03-17","v":100.5},{"s":"MELG","d":"2015-03-21","v":99.3},{"s":"MELG","d":"2015-03-25","v":99.3},{"s":"MELG","d":"2015-03-29","v":102.1},{"s":"MELG","d":"2015-03-31","v":101.3},{"s":"MELG","d":"2015-04-02","v":102.4},{"s":"MELG","d":"2015-04-08","v":100.2},{"s":"MELG","d":"2015-04-11","v":101.8},{"s":"MELG","d":"2015-04-17","v":102.7},
{"s":"MELG","d":"2015-04-19","v":102.1},{"s":"MELG","d":"2015-04-22","v":103.8},{"s":"MELG","d":"2015-04-24","v":104.4},{"s":"MELG","d":"2015-04-26","v":106.1},{"s":"MELG","d":"2015-04-30","v":106.9},{"s":"MELG","d":"2015-05-06","v":106.9},{"s":"MELG","d":"2015-05-08","v":107.2},{"s":"MELG","d":"2015-05-12","v":102.9},{"s":"MELG","d":"2015-05-16","v":106.9},{"s":"MELG","d":"2015-06-08","v":106.9},
{"s":"MELG","d":"2015-06-11","v":105.8},{"s":"MELG","d":"2015-06-15","v":106.6},{"s":"MELG","d":"2015-06-20","v":105.5},{"s":"MELG","d":"2015-06-27","v":106.9},{"s":"MELG","d":"2015-07-02","v":106.6},{"s":"MELG","d":"2015-07-04","v":105.8},{"s":"MELG","d":"2015-07-07","v":107.8},{"s":"MELG","d":"2015-07-10","v":104.1},{"s":"MELG","d":"2015-07-17","v":103.5},{"s":"MELG","d":"2015-07-22","v":103.2},
{"s":"MELG","d":"2015-07-25","v":105},{"s":"MELG","d":"2015-07-31","v":105},{"s":"MELG","d":"2015-08-03","v":106.1},{"s":"MELG","d":"2015-08-05","v":105.3},{"s":"MELG","d":"2015-08-07","v":106.9},{"s":"MELG","d":"2015-08-15","v":106.9},{"s":"MELG","d":"2015-08-17","v":103.2},{"s":"MELG","d":"2015-08-20","v":103.2},{"s":"MELG","d":"2015-08-22","v":100.4},{"s":"MELG","d":"2015-08-27","v":100.4},
{"s":"MELG","d":"2015-08-28","v":102.1},{"s":"MELG","d":"2015-08-31","v":101.6},{"s":"MELG","d":"2015-09-04","v":102.7},{"s":"MELG","d":"2015-09-08","v":102.1},{"s":"MELG","d":"2015-09-10","v":101},{"s":"MELG","d":"2015-09-11","v":102.1},{"s":"MELG","d":"2015-09-15","v":99.6},{"s":"MELG","d":"2015-09-17","v":100.7},{"s":"MELG","d":"2015-09-21","v":100.4},{"s":"MELG","d":"2015-09-25","v":99.3},
{"s":"MELG","d":"2015-09-30","v":100.4},{"s":"MELG","d":"2015-10-03","v":101},{"s":"MELG","d":"2015-10-08","v":99.3},{"s":"MELG","d":"2015-10-12","v":101.3},{"s":"MELG","d":"2015-10-18","v":101.3},{"s":"MELG","d":"2015-10-22","v":101.6},{"s":"MELG","d":"2015-10-25","v":100.4},{"s":"MELG","d":"2015-10-28","v":101.6},{"s":"MELG","d":"2015-11-02","v":101},{"s":"MELG","d":"2015-11-09","v":100.7},
{"s":"MELG","d":"2015-11-14","v":99.9},{"s":"MELG","d":"2015-11-17","v":99.9},{"s":"MELG","d":"2015-11-20","v":101},{"s":"MELG","d":"2015-11-22","v":105.2},{"s":"MELG","d":"2015-11-26","v":101},{"s":"MELG","d":"2015-12-03","v":101},{"s":"MELG","d":"2015-12-05","v":107.8},{"s":"MELG","d":"2015-12-09","v":106.1},{"s":"MELG","d":"2015-12-14","v":102.4},{"s":"MELG","d":"2015-12-19","v":101.3},
{"s":"MELG","d":"2015-12-24","v":103.5},{"s":"MELG","d":"2015-12-31","v":104.1},{"s":"MELG","d":"2016-01-05","v":101.6},{"s":"MELG","d":"2016-01-06","v":106.6},{"s":"MELG","d":"2016-01-10","v":106.3},{"s":"MELG","d":"2016-01-22","v":106.3},{"s":"MELG","d":"2016-01-27","v":105},{"s":"MELG","d":"2016-02-01","v":103.5},{"s":"MELG","d":"2016-02-03","v":103.2},{"s":"MELG","d":"2016-02-05","v":106.1},
{"s":"MELG","d":"2016-02-08","v":107.5},{"s":"MELG","d":"2016-02-10","v":109.7},{"s":"MELG","d":"2016-02-13","v":108.9},{"s":"MELG","d":"2016-02-17","v":108.9},

{"s":"MELG*","d":"2013-10-31","v":100},{"s":"MELG*","d":"2013-11-01","v":106.6},{"s":"MELG*","d":"2013-11-05","v":107.8},{"s":"MELG*","d":"2013-11-09","v":110},{"s":"MELG*","d":"2013-11-12","v":110},{"s":"MELG*","d":"2013-11-13","v":104.7},{"s":"MELG*","d":"2013-11-15","v":110.6},{"s":"MELG*","d":"2013-11-20","v":111.4},{"s":"MELG*","d":"2013-11-24","v":115.1},{"s":"MELG*","d":"2013-11-26","v":115.1},
{"s":"MELG*","d":"2013-11-27","v":109.5},{"s":"MELG*","d":"2013-11-30","v":108.3},{"s":"MELG*","d":"2013-12-04","v":108.3},{"s":"MELG*","d":"2013-12-07","v":105.5},{"s":"MELG*","d":"2013-12-10","v":103.2},{"s":"MELG*","d":"2013-12-12","v":104.5},{"s":"MELG*","d":"2013-12-16","v":104.7},{"s":"MELG*","d":"2013-12-19","v":103.8},{"s":"MELG*","d":"2013-12-22","v":106.6},{"s":"MELG*","d":"2013-12-25","v":108.9},
{"s":"MELG*","d":"2013-12-28","v":111.4},{"s":"MELG*","d":"2014-01-02","v":107.5},{"s":"MELG*","d":"2014-01-06","v":110.6},{"s":"MELG*","d":"2014-01-10","v":112.8},{"s":"MELG*","d":"2014-01-15","v":109.2},{"s":"MELG*","d":"2014-01-25","v":109.2},{"s":"MELG*","d":"2014-01-27","v":110.9},{"s":"MELG*","d":"2014-01-30","v":110.6},{"s":"MELG*","d":"2014-02-04","v":110.9},{"s":"MELG*","d":"2014-02-08","v":114},
{"s":"MELG*","d":"2014-02-12","v":112.8},{"s":"MELG*","d":"2014-02-15","v":115.9},{"s":"MELG*","d":"2014-02-19","v":114.8},{"s":"MELG*","d":"2014-02-21","v":114.8},{"s":"MELG*","d":"2014-02-22","v":113.4},{"s":"MELG*","d":"2014-02-27","v":113.4},{"s":"MELG*","d":"2014-02-28","v":115.4},{"s":"MELG*","d":"2014-03-02","v":111.4},{"s":"MELG*","d":"2014-03-04","v":113.7},{"s":"MELG*","d":"2014-03-09","v":113.7},
{"s":"MELG*","d":"2014-03-14","v":111.7},{"s":"MELG*","d":"2014-03-18","v":112.8},{"s":"MELG*","d":"2014-03-23","v":112.8},{"s":"MELG*","d":"2014-03-26","v":111.4},{"s":"MELG*","d":"2014-04-02","v":111.4},{"s":"MELG*","d":"2014-04-04","v":109.7},{"s":"MELG*","d":"2014-04-07","v":110.9},{"s":"MELG*","d":"2014-04-22","v":110.9},{"s":"MELG*","d":"2014-04-24","v":108.3},{"s":"MELG*","d":"2014-04-27","v":111.2},
{"s":"MELG*","d":"2014-05-09","v":111.2},{"s":"MELG*","d":"2014-05-10","v":113.1},{"s":"MELG*","d":"2014-05-14","v":114.3},{"s":"MELG*","d":"2014-05-25","v":114.3},{"s":"MELG*","d":"2014-05-31","v":113.4},{"s":"MELG*","d":"2014-06-04","v":116.2},{"s":"MELG*","d":"2014-06-05","v":113.7},{"s":"MELG*","d":"2014-06-11","v":114.5},{"s":"MELG*","d":"2014-07-04","v":114.5},{"s":"MELG*","d":"2014-07-08","v":114},
{"s":"MELG*","d":"2014-07-12","v":115.7},{"s":"MELG*","d":"2014-07-18","v":116.5},{"s":"MELG*","d":"2014-07-23","v":115.7},{"s":"MELG*","d":"2014-07-31","v":116.8},{"s":"MELG*","d":"2014-08-06","v":115.1},{"s":"MELG*","d":"2014-08-12","v":114},{"s":"MELG*","d":"2014-08-16","v":112.6},{"s":"MELG*","d":"2014-08-20","v":113.7},{"s":"MELG*","d":"2014-08-27","v":112.3},{"s":"MELG*","d":"2014-09-05","v":114.3},
{"s":"MELG*","d":"2014-09-13","v":114.3},{"s":"MELG*","d":"2014-09-16","v":113.4},{"s":"MELG*","d":"2014-09-23","v":114.5},{"s":"MELG*","d":"2014-09-27","v":115.4},{"s":"MELG*","d":"2014-10-05","v":115.1},{"s":"MELG*","d":"2014-10-08","v":115.1},{"s":"MELG*","d":"2014-10-13","v":113.7},{"s":"MELG*","d":"2014-10-18","v":113.1},{"s":"MELG*","d":"2014-10-25","v":113.1},{"s":"MELG*","d":"2014-10-30","v":114.3},
{"s":"MELG*","d":"2014-11-05","v":115.4},{"s":"MELG*","d":"2014-11-09","v":114.5},{"s":"MELG*","d":"2014-11-12","v":116.5},{"s":"MELG*","d":"2014-11-15","v":121.3},{"s":"MELG*","d":"2014-11-19","v":118.8},{"s":"MELG*","d":"2014-11-26","v":121.3},{"s":"MELG*","d":"2014-11-28","v":117.4},{"s":"MELG*","d":"2014-12-02","v":114.8},{"s":"MELG*","d":"2014-12-07","v":116.8},{"s":"MELG*","d":"2014-12-11","v":117.4},
{"s":"MELG*","d":"2014-12-17","v":115.1},{"s":"MELG*","d":"2014-12-19","v":117.4},{"s":"MELG*","d":"2014-12-26","v":117.9},{"s":"MELG*","d":"2014-12-29","v":119.1},{"s":"MELG*","d":"2015-01-03","v":119.6},{"s":"MELG*","d":"2015-01-07","v":116.8},{"s":"MELG*","d":"2015-01-13","v":119.9},{"s":"MELG*","d":"2015-01-17","v":121.6},{"s":"MELG*","d":"2015-02-02","v":121.6},{"s":"MELG*","d":"2015-02-04","v":124.4},
{"s":"MELG*","d":"2015-02-10","v":120.5},{"s":"MELG*","d":"2015-02-12","v":123.6},{"s":"MELG*","d":"2015-02-17","v":125},{"s":"MELG*","d":"2015-02-24","v":125},{"s":"MELG*","d":"2015-02-27","v":124.1},{"s":"MELG*","d":"2015-03-03","v":125.8},{"s":"MELG*","d":"2015-03-05","v":125.8},{"s":"MELG*","d":"2015-03-06","v":127.8},{"s":"MELG*","d":"2015-03-11","v":126.4},{"s":"MELG*","d":"2015-03-15","v":127.5},
{"s":"MELG*","d":"2015-03-20","v":125.3},{"s":"MELG*","d":"2015-03-24","v":125.3},{"s":"MELG*","d":"2015-03-29","v":127.2},{"s":"MELG*","d":"2015-04-02","v":128.1},{"s":"MELG*","d":"2015-04-06","v":126.9},{"s":"MELG*","d":"2015-04-12","v":127.5},{"s":"MELG*","d":"2015-04-17","v":128.4},{"s":"MELG*","d":"2015-04-24","v":130.3},{"s":"MELG*","d":"2015-04-29","v":132},{"s":"MELG*","d":"2015-05-06","v":133.7},
{"s":"MELG*","d":"2015-05-10","v":132.9},{"s":"MELG*","d":"2015-05-12","v":129.5},{"s":"MELG*","d":"2015-05-15","v":133.2},{"s":"MELG*","d":"2015-05-22","v":133.4},{"s":"MELG*","d":"2015-06-08","v":133.4},{"s":"MELG*","d":"2015-06-11","v":132.6},{"s":"MELG*","d":"2015-06-21","v":132.6},{"s":"MELG*","d":"2015-06-26","v":133.2},{"s":"MELG*","d":"2015-07-03","v":133.2},{"s":"MELG*","d":"2015-07-06","v":133.7},
{"s":"MELG*","d":"2015-07-10","v":131.2},{"s":"MELG*","d":"2015-07-12","v":131.2},{"s":"MELG*","d":"2015-07-18","v":129.8},{"s":"MELG*","d":"2015-07-22","v":129.5},{"s":"MELG*","d":"2015-07-24","v":131.5},{"s":"MELG*","d":"2015-07-31","v":132},{"s":"MELG*","d":"2015-08-06","v":132},{"s":"MELG*","d":"2015-08-09","v":133.2},{"s":"MELG*","d":"2015-08-13","v":133.2},{"s":"MELG*","d":"2015-08-16","v":129.8},
{"s":"MELG*","d":"2015-08-20","v":129.2},{"s":"MELG*","d":"2015-08-22","v":127.2},{"s":"MELG*","d":"2015-08-26","v":126.7},{"s":"MELG*","d":"2015-08-31","v":127.2},{"s":"MELG*","d":"2015-09-04","v":128.6},{"s":"MELG*","d":"2015-09-08","v":127.8},{"s":"MELG*","d":"2015-09-13","v":126.4},{"s":"MELG*","d":"2015-09-15","v":125.3},{"s":"MELG*","d":"2015-09-18","v":127.2},{"s":"MELG*","d":"2015-09-23","v":126.7},
{"s":"MELG*","d":"2015-09-28","v":125.8},{"s":"MELG*","d":"2015-10-03","v":126.9},{"s":"MELG*","d":"2015-10-08","v":125.8},{"s":"MELG*","d":"2015-10-12","v":126.9},{"s":"MELG*","d":"2015-10-22","v":127.5},{"s":"MELG*","d":"2015-10-25","v":126.1},{"s":"MELG*","d":"2015-10-30","v":127.8},{"s":"MELG*","d":"2015-11-04","v":126.7},{"s":"MELG*","d":"2015-11-11","v":126.7},{"s":"MELG*","d":"2015-11-16","v":125.9},
{"s":"MELG*","d":"2015-11-19","v":126.7},{"s":"MELG*","d":"2015-11-23","v":131.5},{"s":"MELG*","d":"2015-11-26","v":126.9},{"s":"MELG*","d":"2015-12-03","v":126.9},{"s":"MELG*","d":"2015-12-05","v":134},{"s":"MELG*","d":"2015-12-09","v":133.4},{"s":"MELG*","d":"2015-12-13","v":129.5},{"s":"MELG*","d":"2015-12-19","v":127.5},{"s":"MELG*","d":"2015-12-24","v":129.5},{"s":"MELG*","d":"2015-12-29","v":129.8},
{"s":"MELG*","d":"2016-01-03","v":129.8},{"s":"MELG*","d":"2016-01-05","v":128.4},{"s":"MELG*","d":"2016-01-07","v":133.2},{"s":"MELG*","d":"2016-01-11","v":130.9},{"s":"MELG*","d":"2016-01-15","v":132.9},{"s":"MELG*","d":"2016-01-22","v":132.9},{"s":"MELG*","d":"2016-01-30","v":129.8},{"s":"MELG*","d":"2016-02-01","v":129.5},{"s":"MELG*","d":"2016-02-05","v":132},{"s":"MELG*","d":"2016-02-08","v":134.3},
{"s":"MELG*","d":"2016-02-11","v":136.3}
],
"labels":[
{"label":"RING","v":142.2},{"label":"HELG","v":130.3},{"label":"NONG","v":104.2},{"label":"MORG","v":99.9},{"label":"MING","v":95.5},{"label":"SVEG","v":90.9},{"label":"SADG","v":74.8},{"label":"SRBANK","v":67.9}
]
},
"layer":[
{
"data":{"name":"series"},
"transform":[{"filter":"datum.s !== 'MELG' && datum.s !== 'MELG*'"}],
"mark":{"type":"line","color":"#edeae0","strokeWidth":5.5,"strokeJoin":"round"},
"encoding":{
"x":{"field":"d","type":"temporal","scale":{"type":"utc","domain":[{"year":2013,"month":10,"date":31,"utc":true},{"year":2016,"month":2,"date":17,"utc":true}]},
"axis":{"title":null,"grid":false,
"values":[{"year":2013,"month":10,"date":31,"utc":true},{"year":2013,"month":11,"date":30,"utc":true},{"year":2013,"month":12,"date":31,"utc":true},{"year":2014,"month":1,"date":31,"utc":true},{"year":2014,"month":2,"date":28,"utc":true},{"year":2014,"month":3,"date":31,"utc":true},{"year":2014,"month":4,"date":30,"utc":true},{"year":2014,"month":5,"date":31,"utc":true},{"year":2014,"month":6,"date":30,"utc":true},{"year":2014,"month":7,"date":31,"utc":true},{"year":2014,"month":8,"date":31,"utc":true},{"year":2014,"month":9,"date":30,"utc":true},{"year":2014,"month":10,"date":31,"utc":true},{"year":2014,"month":11,"date":30,"utc":true},{"year":2014,"month":12,"date":31,"utc":true},{"year":2015,"month":1,"date":31,"utc":true},{"year":2015,"month":2,"date":28,"utc":true},{"year":2015,"month":3,"date":31,"utc":true},{"year":2015,"month":4,"date":30,"utc":true},{"year":2015,"month":5,"date":31,"utc":true},{"year":2015,"month":6,"date":30,"utc":true},{"year":2015,"month":7,"date":31,"utc":true},{"year":2015,"month":8,"date":31,"utc":true},{"year":2015,"month":9,"date":30,"utc":true},{"year":2015,"month":10,"date":31,"utc":true},{"year":2015,"month":11,"date":30,"utc":true},{"year":2015,"month":12,"date":31,"utc":true},{"year":2016,"month":1,"date":31,"utc":true}],
"labelExpr":"[['jan.','feb.','mar.','apr.','mai.','jun.','jul.','aug.','sep.','okt.','nov.','des.'][utcmonth(datum.value)], '' + (utcyear(datum.value) - 2000)]",
"labelFont":"Lato","labelFontSize":24,"labelFontWeight":300,"labelColor":"#3a3a3a","labelPadding":16,"labelLineHeight":35,"labelOverlap":false,"labelFlush":false,"labelBound":false,
"domainColor":"#8c8c8c","domainWidth":2,"tickColor":"#8c8c8c","tickWidth":2,"tickSize":9}},
"y":{"field":"v","type":"quantitative","scale":{"domain":[40,160],"nice":false,"zero":false},
"axis":{"title":null,"values":[40,60,80,100,120,140,160],"grid":true,"gridColor":"#d9d6d2","gridWidth":2,
"domainColor":"#8c8c8c","domainWidth":2,"tickColor":"#c9c5c1","tickWidth":2,"tickSize":10,
"labelFont":"Lato","labelFontSize":24,"labelFontWeight":300,"labelColor":"#3a3a3a","labelPadding":17}},
"detail":{"field":"s"}
}
},
{
"data":{"name":"series"},
"transform":[{"filter":"datum.s === 'MELG'"}],
"mark":{"type":"line","color":"#eab400","strokeWidth":7,"strokeJoin":"round"},
"encoding":{"x":{"field":"d","type":"temporal"},"y":{"field":"v","type":"quantitative"}}
},
{
"data":{"name":"series"},
"transform":[{"filter":"datum.s === 'MELG*'"}],
"mark":{"type":"line","color":"#00704a","strokeWidth":3,"strokeDash":[8,4]},
"encoding":{"x":{"field":"d","type":"temporal"},"y":{"field":"v","type":"quantitative"}}
},
{
"data":{"values":[{}]},
"mark":{"type":"rect","fill":"#d9d4cf","stroke":"#eeebe1","strokeWidth":5},
"encoding":{
"x":{"datum":{"year":2013,"month":11,"date":18,"utc":true},"type":"temporal"},
"x2":{"datum":{"year":2014,"month":9,"date":25,"utc":true}},
"y":{"datum":161.4,"type":"quantitative"},
"y2":{"datum":139.4}
}
},
{
"data":{"values":[{}]},
"mark":{"type":"text","text":"Ca. 35% totalavkastning for de som","font":"Lato","fontSize":36,"fontWeight":300,"color":"#5b524d","align":"center","baseline":"alphabetic"},
"encoding":{"x":{"datum":{"year":2014,"month":4,"date":22,"utc":true},"type":"temporal"},"y":{"datum":151.5,"type":"quantitative"}}
},
{
"data":{"values":[{}]},
"mark":{"type":"text","text":"tegnet ved emisjonen i 2013 * (","font":"Lato","fontSize":36,"fontWeight":300,"color":"#5b524d","align":"right","baseline":"alphabetic"},
"encoding":{"x":{"datum":{"year":2014,"month":8,"date":9,"utc":true},"type":"temporal"},"y":{"datum":144.2,"type":"quantitative"}}
},
{
"data":{"values":[{}]},
"mark":{"type":"rule","color":"#00704a","strokeWidth":3,"strokeDash":[7,3]},
"encoding":{"x":{"datum":{"year":2014,"month":8,"date":10,"utc":true},"type":"temporal"},"x2":{"datum":{"year":2014,"month":8,"date":30,"utc":true}},"y":{"datum":145.9,"type":"quantitative"}}
},
{
"data":{"values":[{}]},
"mark":{"type":"text","text":")","font":"Lato","fontSize":36,"fontWeight":300,"color":"#5b524d","align":"left","baseline":"alphabetic"},
"encoding":{"x":{"datum":{"year":2014,"month":8,"date":31,"utc":true},"type":"temporal"},"y":{"datum":144.2,"type":"quantitative"}}
},
{
"data":{"values":[{}]},
"mark":{"type":"text","text":"Rebasert (100) 31.10.2013","font":"Lato","fontSize":30,"color":"#5d5550","align":"left","baseline":"alphabetic"},
"encoding":{"x":{"datum":{"year":2013,"month":11,"date":28,"utc":true},"type":"temporal"},"y":{"datum":61.8,"type":"quantitative"}}
},
{
"data":{"values":[{}]},
"mark":{"type":"text","text":"(Tegningskurs ved emisjon i","font":"Lato","fontSize":30,"fontWeight":300,"color":"#6e6661","align":"left","baseline":"alphabetic"},
"encoding":{"x":{"datum":{"year":2013,"month":11,"date":28,"utc":true},"type":"temporal"},"y":{"datum":53.6,"type":"quantitative"}}
},
{
"data":{"values":[{}]},
"mark":{"type":"text","text":"MELG i 2013: NOK 110)","font":"Lato","fontSize":30,"fontWeight":300,"color":"#6e6661","align":"left","baseline":"alphabetic"},
"encoding":{"x":{"datum":{"year":2013,"month":11,"date":28,"utc":true},"type":"temporal"},"y":{"datum":47.0,"type":"quantitative"}}
},
{
"data":{"name":"labels"},
"mark":{"type":"text","font":"Lato","fontSize":24,"fontWeight":300,"color":"#a6a6a6","align":"left","baseline":"middle"},
"encoding":{"x":{"datum":{"year":2016,"month":2,"date":21,"utc":true},"type":"temporal"},"y":{"field":"v","type":"quantitative"},"text":{"field":"label"}}
},
{
"data":{"values":[{}]},
"mark":{"type":"text","text":"MELG *","font":"Lato","fontSize":24,"fontWeight":"bold","color":"#00704a","align":"left","baseline":"middle"},
"encoding":{"x":{"datum":{"year":2016,"month":2,"date":21,"utc":true},"type":"temporal"},"y":{"datum":136.3,"type":"quantitative"}}
},
{
"data":{"values":[{}]},
"mark":{"type":"text","text":"MELG","font":"Lato","fontSize":24,"color":"#eab400","align":"left","baseline":"middle"},
"encoding":{"x":{"datum":{"year":2016,"month":2,"date":21,"utc":true},"type":"temporal"},"y":{"datum":108.8,"type":"quantitative"}}
}
]
}
